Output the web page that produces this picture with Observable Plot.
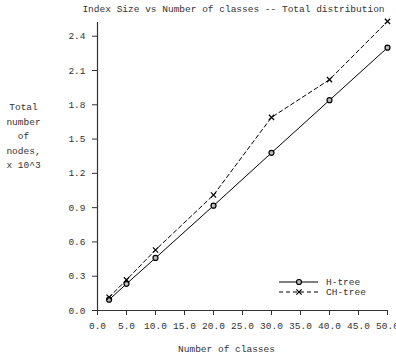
<!DOCTYPE html>
<html>
<head>
<meta charset="utf-8">
<script src="https://cdn.jsdelivr.net/npm/d3@7"></script>
<script src="https://cdn.jsdelivr.net/npm/@observablehq/plot@0.6"></script>
<style>
  html, body { margin: 0; padding: 0; background: #fff; }
  svg { display: block; }
</style>
</head>
<body>
<div id="chart"></div>
<script>
const classes = [2, 5, 10, 20, 30, 40, 50];
const hTree = [0.095, 0.233, 0.46, 0.917, 1.38, 1.84, 2.30];
const chTree = [0.116, 0.268, 0.53, 1.01, 1.69, 2.02, 2.53];
const seriesNames = ["H-tree", "CH-tree"];
const xTicks = [0, 5, 10, 15, 20, 25, 30, 35, 40, 45, 50];
const yTicks = [0, 0.3, 0.6, 0.9, 1.2, 1.5, 1.8, 2.1, 2.4];
const titleText = "Index Size vs Number of classes -- Total distribution";
const xLabel = "Number of classes";
const yLabel = "Total\nnumber\nof\nnodes,\nx 10^3";

const hData = classes.map((c, i) => ({x: c, y: hTree[i]}));
const chData = classes.map((c, i) => ({x: c, y: chTree[i]}));

const FONT = "'Courier New', 'Liberation Mono', monospace";
const INK = "#333";

const plot = Plot.plot({
  width: 396,
  height: 358,
  marginLeft: 97,
  marginRight: 9,
  marginTop: 22,
  marginBottom: 48,
  style: {fontFamily: FONT, fontSize: "9.5px", color: INK, background: "#fff", overflow: "visible"},
  x: {domain: [0, 50]},
  y: {domain: [0, 2.52]},
  marks: [
    Plot.axisX({ticks: xTicks, tickFormat: d3.format(".1f"), tickSize: 5, tickPadding: 7, label: null, stroke: INK, fill: INK}),
    Plot.axisY({ticks: yTicks, tickFormat: d3.format(".1f"), tickSize: 5, tickPadding: 7, label: null, stroke: INK, fill: INK}),
    Plot.ruleX([0], {y1: 0, y2: 2.52, stroke: INK, strokeWidth: 1.2}),
    Plot.ruleY([0], {x1: 0, x2: 50, stroke: INK, strokeWidth: 1.2}),
    Plot.line(hData, {x: "x", y: "y", stroke: "#000", strokeWidth: 1}),
    Plot.dot(hData, {x: "x", y: "y", r: 2.5, stroke: "#000", strokeWidth: 1.2, fill: "#bbb"}),
    Plot.line(chData, {x: "x", y: "y", stroke: "#000", strokeWidth: 1, strokeDasharray: "4,3"}),
    Plot.dot(chData, {x: "x", y: "y", symbol: "times", r: 2.5, stroke: "#000", strokeWidth: 1.2}),
    Plot.text([titleText], {frameAnchor: "top", dx: -9, dy: -14, lineAnchor: "middle", fill: INK, fontSize: 9.5}),
    Plot.text([xLabel], {frameAnchor: "bottom", dx: -16, dy: 38, lineAnchor: "middle", fill: INK, fontSize: 9.5}),
    Plot.text([yLabel], {frameAnchor: "top-left", dx: -74, dy: 77, textAnchor: "middle", lineAnchor: "top", lineHeight: 1.54, fill: INK, fontSize: 9.5})
  ]
});

// Legend (pixel layout inside the plot frame)
const svg = d3.select(plot);
const legend = svg.append("g")
  .attr("font-family", FONT).attr("font-size", "9.5px").attr("text-anchor", "start");
const legendRows = [
  {name: seriesNames[0], dash: null, symbol: "circle", y: 282},
  {name: seriesNames[1], dash: "4,3", symbol: "times", y: 292}
];
legendRows.forEach(r => {
  legend.append("line").attr("x1", 279).attr("x2", 318).attr("y1", r.y).attr("y2", r.y)
    .attr("stroke", "#000").attr("stroke-width", 1).attr("stroke-dasharray", r.dash);
  if (r.symbol === "circle") {
    legend.append("circle").attr("cx", 299).attr("cy", r.y).attr("r", 2.5)
      .attr("stroke", "#000").attr("stroke-width", 1.2).attr("fill", "#bbb");
  } else {
    legend.append("path").attr("transform", `translate(299,${r.y})`)
      .attr("d", d3.symbol(d3.symbolTimes, 20)())
      .attr("stroke", "#000").attr("stroke-width", 1.2).attr("fill", "none");
  }
  legend.append("text").attr("x", 326).attr("y", r.y).attr("dy", "0.32em")
    .attr("text-anchor", "start").attr("fill", INK).text(r.name);
});

document.getElementById("chart").appendChild(plot);
</script>
</body>
</html>
